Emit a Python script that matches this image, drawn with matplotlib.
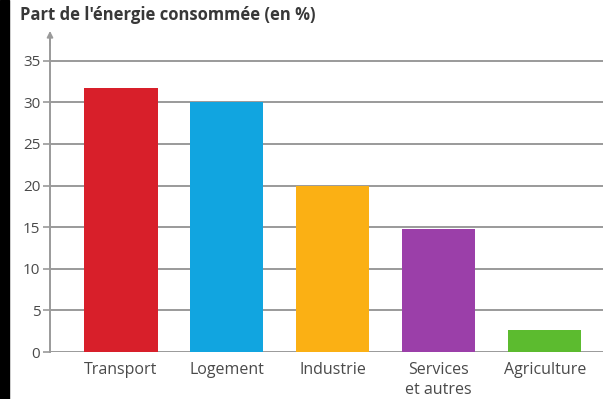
import matplotlib.pyplot as plt
import numpy as np

plt.rcParams['font.family'] = ['Open Sans', 'DejaVu Sans']

secteurs = ['Transport', 'Logement', 'Industrie', 'Services\net autres', 'Agriculture']
parts = [31.7, 30.0, 20.0, 14.8, 2.7]
couleurs = ['#d81f2a', '#11a5e0', '#fbb014', '#9b3fa9', '#5cbb2f']
graduations = [0, 5, 10, 15, 20, 25, 30, 35]

fig = plt.figure(figsize=(6.03, 3.99), dpi=100)
fig.patch.set_facecolor('white')

# bande noire sur le bord gauche
fig.add_artist(plt.Rectangle((0, 0), 9 / 603, 1, transform=fig.transFigure,
                             color='black', zorder=0))

ax = fig.add_axes([50 / 603, 47 / 399, 553 / 603, 313 / 399])
x = np.arange(len(secteurs))
ax.bar(x, parts, width=0.69, color=couleurs, zorder=3)

ax.set_xlim(-0.67, 4.55)
ax.set_ylim(0, 37.6)
ax.set_yticks(graduations)
ax.set_yticklabels([str(g) for g in graduations])
ax.set_xticks(x)
ax.set_xticklabels(secteurs, linespacing=1.35)

ax.grid(axis='y', color='#9a9a9a', linewidth=1.4, zorder=1)
ax.tick_params(axis='y', length=5, width=1.2, color='#9a9a9a', labelsize=11,
               labelcolor='#4a4a4a', pad=2)
ax.tick_params(axis='x', length=0, labelsize=11.5, labelcolor='#4a4a4a', pad=7)

for side in ['top', 'right', 'bottom']:
    ax.spines[side].set_visible(False)
ax.spines['left'].set_color('#9a9a9a')
ax.spines['left'].set_linewidth(1.4)
ax.spines['left'].set_zorder(4)

# flèche au bout de l'axe vertical
ax.annotate('', xy=(-0.67, 38.9), xytext=(-0.67, 36.5),
            xycoords='data', annotation_clip=False,
            arrowprops=dict(arrowstyle='-|>', color='#9a9a9a', lw=1.2,
                            mutation_scale=9))

fig.text(20 / 603, 1 - 15 / 399, "Part de l'énergie consommée (en %)",
         fontsize=12, fontweight='bold', color='#383838', va='center', ha='left')

fig.savefig('out.png', dpi=100)
